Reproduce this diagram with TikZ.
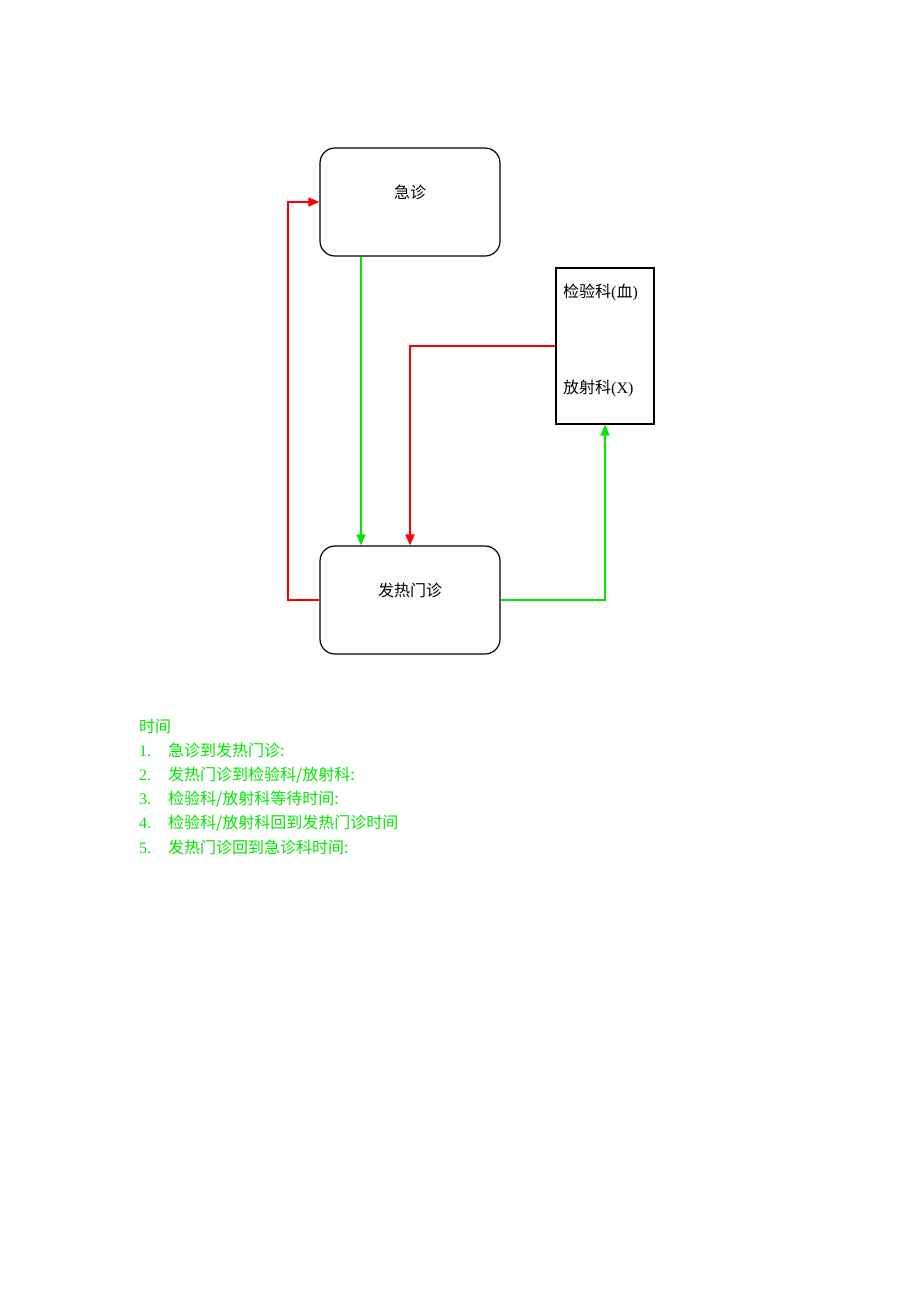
\documentclass[tikz,border=0pt]{standalone}
\usepackage{fontspec}
\setmainfont{Liberation Serif}
\newfontfamily\cjk{Noto Sans CJK SC}
\usetikzlibrary{arrows.meta}
\definecolor{lnred}{RGB}{255,0,0}
\definecolor{lngreen}{RGB}{0,230,0}
\tikzset{
  dept/.style={draw, rounded corners=15pt, minimum width=180pt, minimum height=108pt, line width=1.2pt},
  lab/.style={draw, minimum width=98pt, minimum height=156pt, line width=1.2pt},
  dtext/.style={font=\fontsize{16}{19}\selectfont, inner sep=0pt},
  note/.style={font=\fontsize{16}{19}\selectfont, text=lngreen, anchor=base west, inner sep=0pt},
  link/.style={line width=1.6pt, -{Triangle[length=11pt,width=9pt]}}
}
\begin{document}
\begin{tikzpicture}[x=1pt,y=-1pt]
\useasboundingbox (0,0) rectangle (920,1302);
% departments
\node[dept] (emerg) at (410,202) {};
\node[dtext] (emergtxt) at (410,192) {\cjk 急诊};
\node[dept] (fever) at (410,600) {};
\node[dtext] (fevertxt) at (410,590) {\cjk 发热门诊};
\node[lab] (lab) at (605,346) {};
\node[dtext, anchor=west] (labblood) at (563,292) {{\cjk 检验科}({\cjk 血})};
\node[dtext, anchor=west] (labxray) at (563,388) {{\cjk 放射科}(X)};
% flows
\draw[link, lngreen] ([xshift=-49pt]emerg.south) -- ([xshift=-49pt]fever.north);
\draw[link, lnred] (lab.west) -| (fever.north);
\draw[link, lngreen] (fever.east) -| (lab.south);
\draw[link, lnred] (fever.west) -- ++(-31.5,0) |- (emerg.west);
% times
\node[note] (ttl) at (139,732) {\cjk 时间};
\foreach \t [count=\i] in {{急诊到发热门诊:}, {发热门诊到检验科/放射科:}, {检验科/放射科等待时间:}, {检验科/放射科回到发热门诊时间}, {发热门诊回到急诊科时间:}} {
  \node[note] (num\i) at (139,732+24.2*\i) {\i.};
  \node[note] (item\i) at (168,732+24.2*\i) {\cjk \t};
}
\end{tikzpicture}
\end{document}
